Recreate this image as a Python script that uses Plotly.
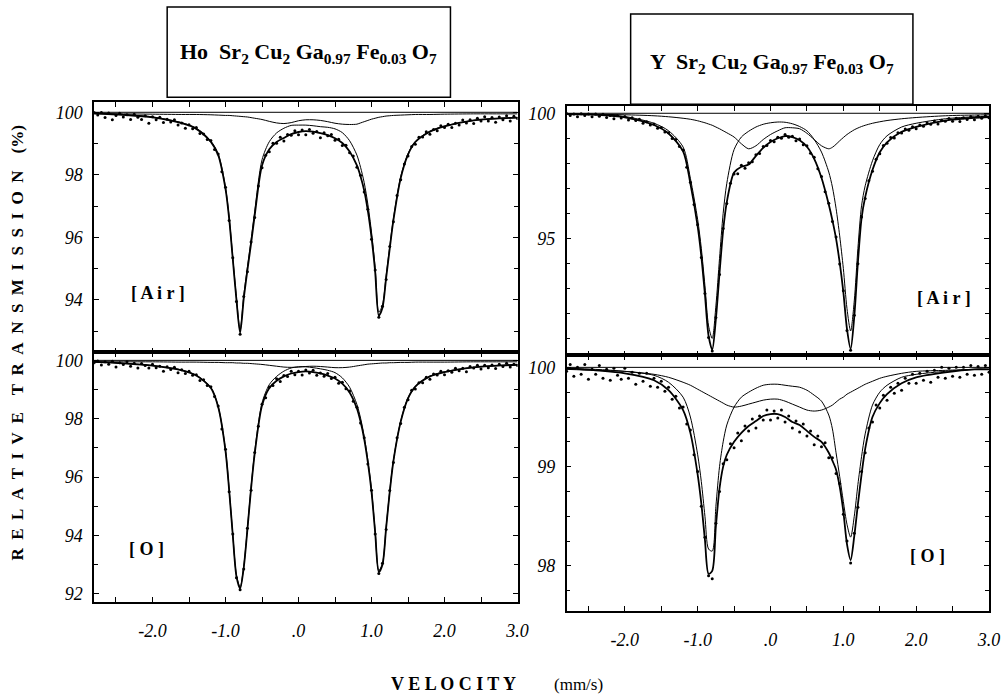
import plotly.graph_objects as go

# ---------------------------------------------------------------------------
# Mössbauer spectra of (Ho,Y)Sr2Cu2Ga0.97Fe0.03O7, relative transmission (%)
# ---------------------------------------------------------------------------

# Measured channels: velocity (mm/s), 0.05 mm/s apart from -2.8 to 3.0
VELOCITY = [round(-2.8 + 0.05 * i, 2) for i in range(117)]

# Velocities at which the fitted curves are tabulated
FIT_VELOCITY = [-2.8, -2.4, -2.0, -1.6, -1.4, -1.2, -1.1, -1.0, -0.95, -0.9,
                -0.85, -0.8, -0.75, -0.7, -0.65, -0.6, -0.5, -0.4, -0.3, -0.2,
                -0.1, 0.0, 0.1, 0.2, 0.3, 0.4, 0.5, 0.6, 0.7, 0.8,
                0.85, 0.9, 0.95, 1.0, 1.05, 1.1, 1.15, 1.2, 1.25, 1.3,
                1.4, 1.5, 1.6, 1.8, 2.0, 2.4, 2.8, 3.0]

# ---- Ho Sr2Cu2Ga0.97Fe0.03O7, annealed in air ----
HO_AIR_DATA = [
    99.99, 99.91, 99.99, 99.83, 99.98, 99.76, 99.90, 99.97, 99.85, 99.92,
    99.77, 99.94, 99.84, 99.77, 99.89, 99.65, 99.86, 99.76, 99.84, 99.67,
    99.78, 99.69, 99.76, 99.59, 99.66, 99.49, 99.60, 99.47, 99.51, 99.32,
    99.31, 99.13, 99.10, 98.81, 98.67, 98.10, 97.60, 96.54, 95.35, 93.95,
    92.90, 94.11, 94.90, 95.85, 96.64, 97.64, 98.23, 98.63, 98.74, 99.01,
    99.01, 99.20, 99.08, 99.29, 99.27, 99.41, 99.28, 99.43, 99.28, 99.45,
    99.33, 99.39, 99.19, 99.35, 99.25, 99.29, 99.11, 99.14, 98.94, 98.95,
    98.71, 98.60, 98.24, 97.99, 97.45, 96.90, 95.94, 94.96, 93.45, 93.80,
    94.65, 95.71, 96.50, 97.34, 97.84, 98.35, 98.60, 98.91, 98.98, 99.20,
    99.21, 99.38, 99.30, 99.45, 99.41, 99.57, 99.51, 99.62, 99.51, 99.65,
    99.59, 99.75, 99.66, 99.76, 99.64, 99.81, 99.72, 99.86, 99.72, 99.83,
    99.68, 99.85, 99.76, 99.89, 99.72, 99.87, 99.80]
HO_AIR_FIT = [99.97, 99.92, 99.84, 99.65, 99.47, 99.05, 98.63, 97.55, 96.6, 95.3,
              94.0, 92.95, 94.05, 94.95, 95.8, 96.7, 98.3, 98.82, 99.05, 99.18,
              99.3, 99.37, 99.4, 99.38, 99.33, 99.27, 99.17, 99.02, 98.75, 98.3,
              97.95, 97.5, 96.85, 96.0, 94.9, 93.5, 93.75, 94.7, 95.65, 96.55,
              97.9, 98.65, 99.05, 99.38, 99.55, 99.74, 99.81, 99.83]
HO_AIR_MAIN = [99.97, 99.92, 99.85, 99.67, 99.49, 99.08, 98.67, 97.6, 96.65, 95.36,
               94.07, 93.03, 94.14, 95.05, 95.92, 96.84, 98.48, 99.06, 99.34, 99.49,
               99.58, 99.59, 99.59, 99.57, 99.54, 99.52, 99.47, 99.35, 99.09, 98.63,
               98.24, 97.75, 97.06, 96.17, 95.04, 93.61, 93.84, 94.77, 95.71, 96.6,
               97.94, 98.68, 99.07, 99.4, 99.56, 99.74, 99.81, 99.83]
HO_AIR_MINOR = [99.95, 99.95, 99.94, 99.93, 99.93, 99.92, 99.91, 99.9, 99.9, 99.89,
                99.88, 99.87, 99.86, 99.85, 99.83, 99.81, 99.77, 99.71, 99.66, 99.64,
                99.67, 99.73, 99.76, 99.76, 99.74, 99.7, 99.65, 99.62, 99.61, 99.62,
                99.66, 99.7, 99.74, 99.78, 99.81, 99.84, 99.86, 99.88, 99.89, 99.9,
                99.91, 99.92, 99.93, 99.93, 99.94, 99.95, 99.95, 99.95]

# ---- Ho Sr2Cu2Ga0.97Fe0.03O7, annealed in oxygen ----
HO_O_DATA = [
    99.92, 99.98, 99.84, 99.95, 99.87, 99.97, 99.77, 99.92, 99.86, 99.95,
    99.80, 99.90, 99.74, 99.89, 99.82, 99.74, 99.87, 99.75, 99.80, 99.63,
    99.78, 99.69, 99.76, 99.58, 99.68, 99.55, 99.63, 99.49, 99.51, 99.31,
    99.34, 99.14, 99.10, 98.76, 98.44, 97.65, 96.95, 95.50, 94.05, 92.55,
    92.14, 92.85, 94.25, 95.55, 96.84, 97.74, 98.50, 98.72, 99.09, 99.14,
    99.37, 99.28, 99.48, 99.45, 99.63, 99.51, 99.63, 99.50, 99.67, 99.57,
    99.66, 99.49, 99.57, 99.46, 99.55, 99.38, 99.42, 99.22, 99.25, 99.03,
    98.95, 98.60, 98.39, 97.85, 97.35, 96.45, 95.55, 94.05, 92.70, 93.05,
    94.20, 95.54, 96.50, 97.35, 97.84, 98.39, 98.65, 98.98, 99.02, 99.23,
    99.23, 99.42, 99.35, 99.53, 99.50, 99.63, 99.51, 99.64, 99.59, 99.73,
    99.64, 99.73, 99.61, 99.79, 99.74, 99.83, 99.70, 99.83, 99.75, 99.84,
    99.72, 99.87, 99.79, 99.90, 99.77, 99.87, 99.82]
HO_O_FIT = [99.95, 99.9, 99.82, 99.66, 99.48, 99.05, 98.4, 96.9, 95.55, 94.0,
            92.6, 92.18, 92.9, 94.2, 95.6, 96.8, 98.45, 99.05, 99.3, 99.45,
            99.55, 99.6, 99.62, 99.6, 99.55, 99.48, 99.38, 99.2, 98.9, 98.35,
            97.9, 97.3, 96.5, 95.5, 94.1, 92.75, 93.0, 94.25, 95.5, 96.55,
            97.9, 98.7, 99.1, 99.45, 99.6, 99.76, 99.83, 99.85]
HO_O_MAIN = [99.95, 99.9, 99.82, 99.67, 99.49, 99.07, 98.42, 96.93, 95.58, 94.03,
             92.64, 92.22, 92.95, 94.25, 95.66, 96.87, 98.54, 99.17, 99.45, 99.63,
             99.74, 99.78, 99.78, 99.75, 99.71, 99.66, 99.58, 99.4, 99.08, 98.49,
             98.02, 97.4, 96.58, 95.57, 94.16, 92.8, 93.04, 94.29, 95.53, 96.58,
             97.92, 98.72, 99.11, 99.46, 99.61, 99.76, 99.83, 99.85]
HO_O_MINOR = [99.95, 99.95, 99.95, 99.94, 99.94, 99.93, 99.93, 99.92, 99.92, 99.92,
              99.91, 99.91, 99.9, 99.9, 99.89, 99.88, 99.86, 99.83, 99.8, 99.77,
              99.76, 99.77, 99.79, 99.8, 99.79, 99.77, 99.75, 99.75, 99.77, 99.81,
              99.83, 99.85, 99.87, 99.88, 99.89, 99.9, 99.91, 99.91, 99.92, 99.92,
              99.93, 99.93, 99.94, 99.94, 99.94, 99.95, 99.95, 99.95]

# ---- Y Sr2Cu2Ga0.97Fe0.03O7, annealed in air ----
Y_AIR_DATA = [
    99.99, 99.91, 99.97, 99.86, 99.98, 99.91, 99.97, 99.86, 99.97, 99.88,
    99.96, 99.83, 99.91, 99.78, 99.91, 99.81, 99.87, 99.73, 99.82, 99.71,
    99.76, 99.60, 99.66, 99.53, 99.57, 99.40, 99.43, 99.25, 99.22, 98.99,
    98.95, 98.67, 98.53, 97.84, 97.24, 96.35, 95.54, 94.24, 92.80, 91.04,
    90.50, 91.84, 93.56, 95.39, 96.39, 97.20, 97.57, 97.58, 97.92, 97.80,
    98.02, 98.06, 98.34, 98.39, 98.67, 98.71, 98.91, 98.86, 99.04, 99.00,
    99.15, 99.04, 99.08, 98.90, 98.97, 98.74, 98.70, 98.40, 98.24, 97.78,
    97.47, 96.86, 96.40, 95.67, 95.05, 93.98, 92.91, 91.32, 90.53, 91.93,
    93.99, 95.85, 96.59, 97.30, 97.68, 98.16, 98.38, 98.71, 98.80, 99.03,
    99.01, 99.22, 99.21, 99.37, 99.32, 99.46, 99.38, 99.53, 99.48, 99.62,
    99.56, 99.69, 99.57, 99.72, 99.68, 99.79, 99.68, 99.80, 99.67, 99.82,
    99.75, 99.87, 99.74, 99.88, 99.80, 99.90, 99.82]
Y_AIR_FIT = [99.97, 99.94, 99.84, 99.53, 99.19, 98.48, 97.19, 95.48, 94.29, 92.75,
             91.1, 90.55, 91.78, 93.61, 95.33, 96.45, 97.63, 97.86, 97.95, 98.3,
             98.62, 98.85, 99.0, 99.09, 99.05, 98.92, 98.66, 98.18, 97.42, 96.35,
             95.72, 94.99, 94.03, 92.86, 91.38, 90.58, 91.87, 94.04, 95.8, 96.65,
             97.73, 98.44, 98.84, 99.26, 99.46, 99.71, 99.82, 99.85]
Y_AIR_MAIN = [99.97, 99.95, 99.87, 99.6, 99.3, 98.65, 97.4, 95.75, 94.6, 93.1,
              91.5, 91.0, 92.3, 94.2, 96.0, 97.2, 98.55, 99.05, 99.28, 99.45,
              99.56, 99.62, 99.65, 99.64, 99.58, 99.47, 99.3, 98.95, 98.45, 97.65,
              97.05, 96.2, 95.1, 93.8, 92.2, 91.3, 92.5, 94.6, 96.3, 97.1,
              98.1, 98.75, 99.1, 99.45, 99.6, 99.78, 99.86, 99.88]
Y_AIR_MINOR = [99.97, 99.96, 99.94, 99.9, 99.86, 99.8, 99.76, 99.7, 99.66, 99.62,
               99.57, 99.52, 99.45, 99.38, 99.3, 99.22, 99.05, 98.78, 98.58, 98.7,
               98.95, 99.15, 99.3, 99.42, 99.42, 99.38, 99.2, 98.95, 98.7, 98.58,
               98.64, 98.76, 98.9, 99.03, 99.15, 99.25, 99.34, 99.41, 99.47, 99.52,
               99.6, 99.66, 99.71, 99.78, 99.83, 99.9, 99.93, 99.94]

# ---- Y Sr2Cu2Ga0.97Fe0.03O7, annealed in oxygen ----
Y_O_DATA = [
    99.96, 100.03, 99.91, 100.00, 99.93, 100.03, 99.88, 99.98, 99.93, 100.02,
    99.89, 99.98, 99.87, 99.99, 99.92, 99.88, 99.99, 99.89, 99.95, 99.83,
    99.94, 99.86, 99.94, 99.81, 99.89, 99.80, 99.86, 99.76, 99.80, 99.68,
    99.71, 99.59, 99.60, 99.43, 99.37, 99.12, 98.95, 98.60, 98.29, 97.90,
    97.87, 98.43, 98.75, 99.03, 99.07, 99.23, 99.19, 99.34, 99.26, 99.41,
    99.36, 99.48, 99.39, 99.51, 99.47, 99.57, 99.47, 99.56, 99.49, 99.57,
    99.45, 99.51, 99.39, 99.46, 99.35, 99.43, 99.31, 99.36, 99.22, 99.31,
    99.20, 99.24, 99.09, 99.09, 98.93, 98.83, 98.52, 98.25, 98.03, 98.33,
    98.59, 98.95, 99.14, 99.39, 99.45, 99.62, 99.59, 99.72, 99.67, 99.80,
    99.74, 99.84, 99.77, 99.89, 99.84, 99.93, 99.84, 99.94, 99.87, 99.96,
    99.85, 99.97, 99.90, 100.00, 99.89, 99.99, 99.91, 100.00, 99.90, 100.00,
    99.93, 100.02, 99.92, 100.01, 99.93, 100.02, 99.95]
Y_O_FIT = [99.99, 99.97, 99.94, 99.87, 99.77, 99.57, 99.34, 98.92, 98.63, 98.26,
           97.92, 97.95, 98.4, 98.78, 99.0, 99.12, 99.25, 99.34, 99.41, 99.46,
           99.51, 99.53, 99.53, 99.5, 99.45, 99.42, 99.36, 99.3, 99.25, 99.14,
           99.06, 98.97, 98.8, 98.55, 98.22, 98.06, 98.3, 98.62, 98.92, 99.18,
           99.5, 99.64, 99.73, 99.84, 99.9, 99.95, 99.98, 99.98]
Y_O_MAIN = [99.99, 99.98, 99.96, 99.92, 99.85, 99.7, 99.5, 99.12, 98.85, 98.5,
            98.17, 98.15, 98.6, 99.0, 99.25, 99.42, 99.6, 99.7, 99.75, 99.79,
            99.82, 99.83, 99.83, 99.82, 99.81, 99.8, 99.77, 99.72, 99.66, 99.52,
            99.38, 99.14, 98.9, 98.65, 98.42, 98.29, 98.5, 98.82, 99.1, 99.33,
            99.62, 99.75, 99.82, 99.9, 99.93, 99.96, 99.98, 99.98]
Y_O_MINOR = [99.98, 99.97, 99.96, 99.93, 99.9, 99.85, 99.82, 99.78, 99.76, 99.74,
             99.72, 99.7, 99.68, 99.66, 99.64, 99.62, 99.6, 99.61, 99.63, 99.65,
             99.67, 99.68, 99.68, 99.66, 99.63, 99.6, 99.57, 99.56, 99.57, 99.6,
             99.62, 99.65, 99.68, 99.7, 99.73, 99.75, 99.77, 99.79, 99.81, 99.83,
             99.86, 99.89, 99.91, 99.94, 99.96, 99.97, 99.98, 99.98]

# Axis ticks
X_LABEL_TICKS = [-2.0, -1.0, 0.0, 1.0, 2.0, 3.0]
X_LABEL_TEXT = ["-2.0", "-1.0", ".0", "1.0", "2.0", "3.0"]
X_MINOR_TICKS = [-2.5, -1.5, -0.5, 0.5, 1.5, 2.5]
V_RANGE = [-2.8, 3.0]
BASELINE = 100.0

W, H = 1001, 700
# horizontal extent that the paper coordinates span on the page
PAGE_W = 989


def fx(p):
    return min(p / PAGE_W, 1.0)


def fy(p):
    return 1 - p / H


PANELS = [
    dict(ax="", data=HO_AIR_DATA, fit=HO_AIR_FIT, main=HO_AIR_MAIN, minor=HO_AIR_MINOR,
         xpx=(94, 517), ypx=(100, 352), yrange=[92.32, 100.32],
         ylabels=[94, 96, 98, 100], yminor=[93, 95, 97, 99], xlabels=False),
    dict(ax="2", data=HO_O_DATA, fit=HO_O_FIT, main=HO_O_MAIN, minor=HO_O_MINOR,
         xpx=(94, 517), ypx=(352, 603), yrange=[91.73, 100.27],
         ylabels=[92, 94, 96, 98, 100], yminor=[93, 95, 97, 99], xlabels=True),
    dict(ax="3", data=Y_AIR_DATA, fit=Y_AIR_FIT, main=Y_AIR_MAIN, minor=Y_AIR_MINOR,
         xpx=(566, 988), ypx=(104, 355), yrange=[90.32, 100.28],
         ylabels=[95, 100], yminor=[91, 92, 93, 94, 96, 97, 98, 99], xlabels=False),
    dict(ax="4", data=Y_O_DATA, fit=Y_O_FIT, main=Y_O_MAIN, minor=Y_O_MINOR,
         xpx=(566, 988), ypx=(355, 612), yrange=[97.55, 100.12],
         ylabels=[98, 99, 100], yminor=[97.75, 98.25, 98.5, 98.75, 99.25, 99.5, 99.75],
         xlabels=True),
]

TICK_FONT = dict(family="Liberation Serif", size=18, color="black", style="italic")
LABEL_FONT = dict(family="Liberation Serif", size=18, color="black", weight="bold")

fig = go.Figure()

for p in PANELS:
    xa, ya = "x" + p["ax"], "y" + p["ax"]
    # straight baseline at 100 %
    fig.add_trace(go.Scatter(x=V_RANGE, y=[BASELINE, BASELINE], mode="lines",
                             line=dict(color="black", width=1), xaxis=xa, yaxis=ya,
                             hoverinfo="skip"))
    # weak secondary doublet
    fig.add_trace(go.Scatter(x=FIT_VELOCITY, y=p["minor"], mode="lines",
                             line=dict(color="black", width=1, shape="spline", smoothing=0.8),
                             xaxis=xa, yaxis=ya))
    # main doublet
    fig.add_trace(go.Scatter(x=FIT_VELOCITY, y=p["main"], mode="lines",
                             line=dict(color="black", width=1, shape="spline", smoothing=0.8),
                             xaxis=xa, yaxis=ya))
    # total fit
    fig.add_trace(go.Scatter(x=FIT_VELOCITY, y=p["fit"], mode="lines",
                             line=dict(color="black", width=1.8, shape="spline", smoothing=0.8),
                             xaxis=xa, yaxis=ya))
    # measured points
    fig.add_trace(go.Scatter(x=VELOCITY, y=p["data"], mode="markers",
                             marker=dict(color="black", size=3), xaxis=xa, yaxis=ya))

    fig.layout["xaxis" + p["ax"]] = dict(
        domain=[fx(p["xpx"][0]), fx(p["xpx"][1])], anchor=ya, range=V_RANGE,
        showgrid=False, zeroline=False, showline=True, linecolor="black", linewidth=1.5,
        mirror="allticks", ticks="inside", ticklen=5, tickwidth=1, tickcolor="black",
        tickmode="array", tickvals=X_LABEL_TICKS, ticktext=X_LABEL_TEXT,
        minor=dict(tickmode="array", tickvals=X_MINOR_TICKS, ticks="inside",
                   ticklen=5, tickwidth=1, tickcolor="black"),
        showticklabels=p["xlabels"], tickfont=TICK_FONT, ticklabelstandoff=12)
    fig.layout["yaxis" + p["ax"]] = dict(
        domain=[fy(p["ypx"][1]), fy(p["ypx"][0])], anchor=xa, range=p["yrange"],
        showgrid=False, zeroline=False, showline=True, linecolor="black", linewidth=1.5,
        mirror="allticks", ticks="inside", ticklen=5, tickwidth=1, tickcolor="black",
        tickmode="array", tickvals=p["ylabels"], ticktext=[str(v) for v in p["ylabels"]],
        minor=dict(tickmode="array", tickvals=p["yminor"], ticks="inside",
                   ticklen=4, tickwidth=1, tickcolor="black"),
        tickfont=TICK_FONT, ticklabelstandoff=6)

# compound title boxes
fig.add_shape(type="rect", xref="paper", yref="paper",
              x0=fx(167), x1=fx(450), y0=fy(95), y1=fy(4),
              line=dict(color="black", width=1.5), fillcolor="white", layer="below")
fig.add_shape(type="rect", xref="paper", yref="paper",
              x0=fx(630), x1=fx(912), y0=fy(102), y1=fy(11),
              line=dict(color="black", width=1.5), fillcolor="white", layer="below")

TITLE_FONT = dict(family="Liberation Serif", size=22, color="black", weight="bold")
TITLES = [
    (308, 50, "Ho  Sr<sub>2</sub> Cu<sub>2</sub> Ga<sub>0.97</sub> Fe<sub>0.03</sub> O<sub>7</sub>"),
    (771, 60, "Y  Sr<sub>2</sub> Cu<sub>2</sub> Ga<sub>0.97</sub> Fe<sub>0.03</sub> O<sub>7</sub>"),
]
for x, y, t in TITLES:
    fig.add_annotation(x=fx(x), y=fy(y), xref="paper", yref="paper", showarrow=False,
                       xanchor="center", yanchor="middle", text=t, font=TITLE_FONT)

# atmosphere labels
for x, y, t in [(158, 292, "[ A i r ]"), (146, 550, "[ O ]"),
                (943, 297, "[ A i r ]"), (927, 557, "[ O ]")]:
    fig.add_annotation(x=fx(x), y=fy(y), xref="paper", yref="paper", showarrow=False,
                       xanchor="center", yanchor="middle", text=t, font=LABEL_FONT)

# axis titles (letter-spaced capitals)
SP = "\u2002"
GAP = "\u00a0\u00a0\u00a0\u00a0"
fig.add_annotation(x=fx(18), y=fy(343), xref="paper", yref="paper", showarrow=False,
                   xanchor="center", yanchor="middle", textangle=-90,
                   text=SP.join("RELATIVE") + GAP + SP.join("TRANSMISSION") + GAP + "(%)",
                   font=dict(family="Liberation Serif", size=17, color="black", weight="bold"))
fig.add_annotation(x=fx(453), y=fy(686), xref="paper", yref="paper", showarrow=False,
                   xanchor="center", yanchor="middle", text=" ".join("VELOCITY"),
                   font=dict(family="Liberation Serif", size=18, color="black", weight="bold"))
fig.add_annotation(x=fx(578), y=fy(686), xref="paper", yref="paper", showarrow=False,
                   xanchor="center", yanchor="middle", text="(mm/s)",
                   font=dict(family="Liberation Serif", size=17, color="black"))

fig.update_layout(width=W, height=H, autosize=False,
                  margin=dict(l=0, r=0, t=0, b=0),
                  paper_bgcolor="white", plot_bgcolor="white", showlegend=False)

fig.write_html("out.html", config={"responsive": False},
               post_script="document.body.style.margin='0';"
                           "document.body.style.overflow='hidden';")
